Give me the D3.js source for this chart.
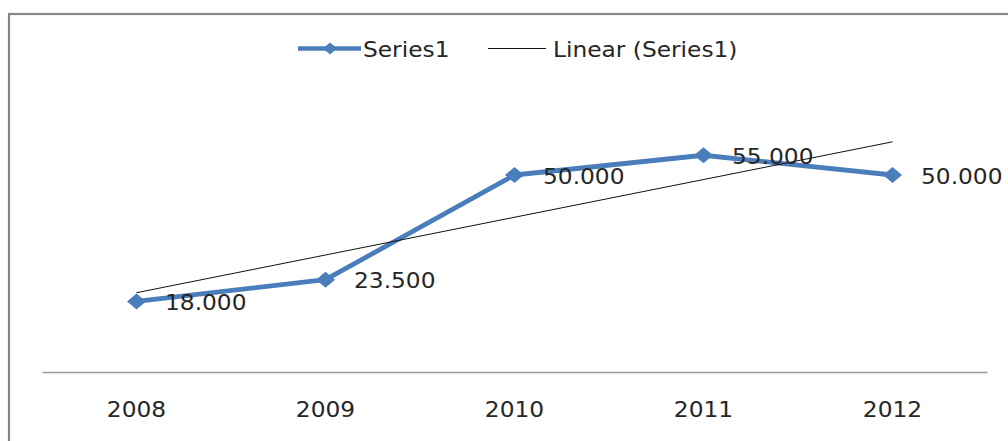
<!DOCTYPE html>
<html>
<head>
<meta charset="utf-8">
<script src="https://cdn.jsdelivr.net/npm/d3@7"></script>
<style>
  html, body { margin: 0; padding: 0; background: #fff; }
  svg { display: block; }
  text { font-family: "DejaVu Sans", sans-serif; fill: #262626; }
</style>
</head>
<body>
<svg id="chart" width="1008" height="441"></svg>
<script>
// ---- data ----
const categories = ["2008", "2009", "2010", "2011", "2012"];
const values = [18000, 23500, 50000, 55000, 50000];
const valueLabels = ["18.000", "23.500", "50.000", "55.000", "50.000"];
const seriesNames = ["Series1", "Linear (Series1)"];

// ---- layout ----
const W = 1008, H = 441;
const svg = d3.select("#chart");
const SX = 1.11; // horizontal stretch of text as in the reference
const blue = "#4A7EBB";

// outer chart border (cut off right and bottom as in reference)
svg.append("rect")
  .attr("x", 9).attr("y", 14)
  .attr("width", 1200).attr("height", 600)
  .attr("fill", "none").attr("stroke", "#868686").attr("stroke-width", 2.2);

const x = d3.scaleBand().domain(categories).range([42, 987]);
const y = d3.scaleLinear().domain([0, 60000]).range([372.5, 135.5]);
const cx = c => x(c) + x.bandwidth() / 2;

// x axis
const xAxis = d3.axisBottom(x).tickSize(0).tickPadding(0);
const gx = svg.append("g").attr("transform", "translate(0,372)").call(xAxis);
gx.select(".domain").attr("stroke", "#9a9a9a").attr("stroke-width", 1.4);
gx.selectAll(".tick text")
  .attr("y", 0).attr("dy", null)
  .attr("transform", "translate(0,45) scale(" + SX + ",1)")
  .style("font-size", "21px").style("font-family", "'DejaVu Sans', sans-serif")
  .attr("fill", "#262626");

// trend line (least squares on category index, as the chart's linear trendline)
const idx = categories.map((c, i) => i + 1);
const mx = d3.mean(idx), my = d3.mean(values);
const slope = d3.sum(idx.map((v, i) => (v - mx) * (values[i] - my))) / d3.sum(idx.map(v => (v - mx) ** 2));
const intercept = my - slope * mx;
const trend = categories.map((c, i) => ({ c, v: intercept + slope * idx[i] }));
const lineGen = d3.line().x(d => cx(d.c)).y(d => y(d.v));

// series line
const pts = categories.map((c, i) => ({ c, v: values[i] }));
svg.append("path").datum(pts)
  .attr("d", lineGen)
  .attr("fill", "none").attr("stroke", blue).attr("stroke-width", 4.8)
  .attr("stroke-linejoin", "round");

// trend line on top
svg.append("path").datum([trend[0], trend[trend.length - 1]])
  .attr("d", lineGen)
  .attr("fill", "none").attr("stroke", "#111").attr("stroke-width", 1);

// diamond markers
function diamond(hw, hh) {
  return "M0," + (-hh) + "L" + hw + ",0L0," + hh + "L" + (-hw) + ",0Z";
}
svg.selectAll(".marker").data(pts).enter().append("path")
  .attr("class", "marker")
  .attr("transform", d => "translate(" + cx(d.c) + "," + y(d.v) + ")")
  .attr("d", diamond(9.5, 8))
  .attr("fill", blue);

// data labels
svg.selectAll(".lbl").data(pts).enter().append("text")
  .attr("class", "lbl")
  .attr("transform", d => "translate(" + (cx(d.c) + 28.5) + "," + (y(d.v) + 8.5) + ") scale(" + SX + ",1)")
  .style("font-size", "21px")
  .text((d, i) => valueLabels[i]);

// legend
const lg = svg.append("g");
lg.append("line").attr("x1", 298).attr("x2", 361).attr("y1", 48.5).attr("y2", 48.5)
  .attr("stroke", blue).attr("stroke-width", 4.5);
lg.append("path").attr("transform", "translate(330,48.5)").attr("d", diamond(7, 6)).attr("fill", blue);
lg.append("text").attr("transform", "translate(363,56.5) scale(" + SX + ",1)")
  .style("font-size", "21px").text(seriesNames[0]);
lg.append("line").attr("x1", 488).attr("x2", 546).attr("y1", 48.5).attr("y2", 48.5)
  .attr("stroke", "#111").attr("stroke-width", 1);
lg.append("text").attr("transform", "translate(553,56.5) scale(" + SX + ",1)")
  .style("font-size", "21px").text(seriesNames[1]);
</script>
</body>
</html>
